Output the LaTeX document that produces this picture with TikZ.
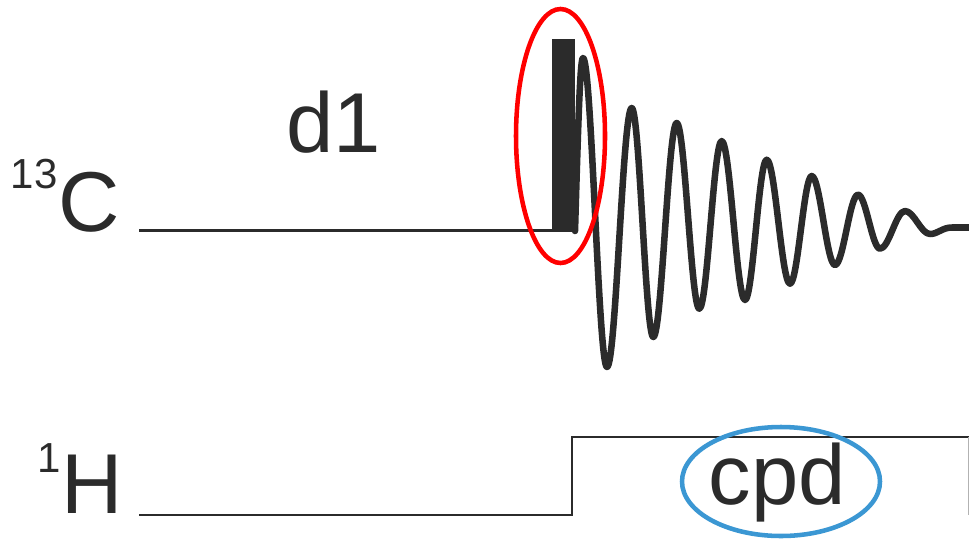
\documentclass[tikz,border=0pt]{standalone}
\usepackage{fontspec}
\setmainfont{Liberation Sans}
\usetikzlibrary{shapes.geometric}
\definecolor{ink}{HTML}{2B2B2B}
\definecolor{ringred}{HTML}{FF0000}
\definecolor{ringblue}{HTML}{3B97D3}
\begin{document}
\begin{tikzpicture}[x=0.75pt,y=-0.75pt,
  bigtext/.style={inner sep=0pt, text=ink, font=\fontsize{63.75}{64}\selectfont},
  smalltext/.style={inner sep=0pt, text=ink, font=\fontsize{31.5}{32}\selectfont},
  baseline/.style={draw=ink, line width=1.6pt},
  fid/.style={draw=ink, line width=4.9pt, line join=round, line cap=round},
  ring/.style={ellipse, draw, line width=3.4pt, inner sep=0pt}]
\useasboundingbox (0,0) rectangle (969,543);

% channel labels
\node[bigtext, anchor=base west] (C) at (58,231) {C};
\node[smalltext, anchor=base west] (Cmass) at (10.4,188) {13};
\node[bigtext, anchor=base west] (H) at (61,513) {H};
\node[smalltext, anchor=base west] (Hmass) at (37.4,472) {1};
\node[bigtext, anchor=base west] (d1) at (286,152) {d1};
\node[bigtext, anchor=base] (cpd) at (777.5,504) {cpd};

% 13C channel: relaxation delay and 90 degree pulse
\coordinate (cstart) at (139,230.5);
\coordinate (cend) at (552,230.5);
\coordinate (pulseBL) at (552,232);
\coordinate (pulseTR) at (575,39);
\draw[baseline] (cstart) -- (cend);
\fill[ink] (pulseBL) rectangle (pulseTR);

% free induction decay
\coordinate (fidstart) at (575,231);
\coordinate (fidend) at (969,227.5);
\draw[fid] (fidstart)
  .. controls (578,130) and (580,58) .. (583,58)
  .. controls (591.6,58) and (598.4,367) .. (607,367)
  .. controls (615.9,367) and (622.8,108) .. (631.7,108)
  .. controls (639.5,108) and (645.5,337) .. (653.3,337)
  .. controls (661.7,337) and (668.3,123) .. (676.7,123)
  .. controls (684.8,123) and (691.2,308.7) .. (699.3,308.7)
  .. controls (707.4,308.7) and (713.6,141) .. (721.7,141)
  .. controls (730.1,141) and (736.6,300) .. (745,300)
  .. controls (752.8,300) and (758.9,159.7) .. (766.7,159.7)
  .. controls (775.1,159.7) and (781.6,283.7) .. (790,283.7)
  .. controls (797.8,283.7) and (803.9,176) .. (811.7,176)
  .. controls (820.1,176) and (826.6,265) .. (835,265)
  .. controls (843.3,265) and (849.7,194.7) .. (858,194.7)
  .. controls (865.9,194.7) and (872.1,248.7) .. (880,248.7)
  .. controls (889,248.7) and (896,211) .. (905,211)
  .. controls (914,211) and (921,234) .. (930,234)
  .. controls (938,234) and (942,227.5) .. (952,227.5)
  -- (fidend);

% 1H channel: decoupling on during acquisition
\coordinate (hstart) at (139,515);
\coordinate (hstep) at (572,515);
\coordinate (htop) at (572,437);
\coordinate (hend) at (969,437);
\draw[baseline, line join=miter] (hstart) -- (hstep) -- (htop) -- (hend);
\draw[gray!60, line width=0.75pt] (968.5,437) -- (968.5,515);

% highlight rings
\node[ring, draw=ringred, minimum width=66.75pt, minimum height=190.5pt] (pulsering) at (560.5,136) {};
\node[ring, draw=ringblue, minimum width=148.5pt, minimum height=81.75pt] (cpdring) at (781,481.5) {};
\end{tikzpicture}
\end{document}
